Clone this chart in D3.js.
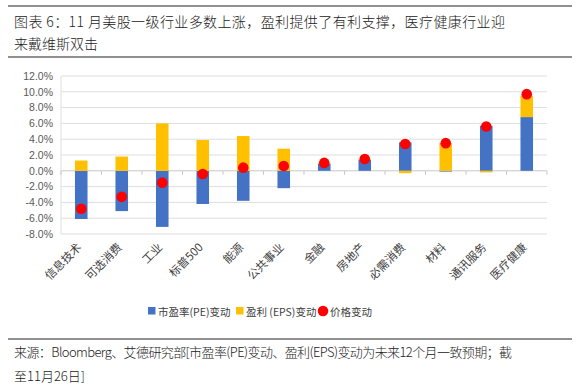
<!DOCTYPE html>
<html>
<head>
<meta charset="utf-8">
<script src="https://cdn.jsdelivr.net/npm/d3@7"></script>
<style>
  body { margin: 0; background: #fff; }
  svg { display: block; font-family: "Noto Sans CJK SC", "Liberation Sans", sans-serif; }
</style>
</head>
<body>
<svg width="579" height="390"></svg>
<script>
// sectors and the three series (% change)
var sectors = ["信息技术", "可选消费", "工业", "标普500", "能源", "公共事业", "金融", "房地产", "必需消费", "材料", "通讯服务", "医疗健康"];
var peChange = [-6.1, -5.1, -7.1, -4.2, -3.8, -2.2, 0.9, 1.4, 3.6, -0.1, 5.7, 6.8];
var epsChange = [1.3, 1.8, 6.0, 3.9, 4.4, 2.8, 0.1, 0.1, -0.3, 3.5, -0.2, 2.7];
var priceChange = [-4.8, -3.3, -1.5, -0.4, 0.4, 0.6, 1.0, 1.5, 3.4, 3.5, 5.6, 9.7];
var yTicks = [-8, -6, -4, -2, 0, 2, 4, 6, 8, 10, 12];

var svg = d3.select("svg");
var blue = "#4472c4", gold = "#ffc000", red = "#ff0000";

// title block
svg.append("line").attr("x1", 8).attr("x2", 572).attr("y1", 6).attr("y2", 6)
    .attr("stroke", "#6b6b6b").attr("stroke-width", 1.5);
svg.append("text").attr("x", 14).attr("y", 27).attr("font-size", 14).attr("font-weight", 300).attr("fill", "#222")
    .attr("textLength", 491).attr("lengthAdjust", "spacing")
    .text("图表 6：11 月美股一级行业多数上涨，盈利提供了有利支撑，医疗健康行业迎");
svg.append("text").attr("x", 14).attr("y", 49).attr("font-size", 14).attr("font-weight", 300).attr("fill", "#222")
    .text("来戴维斯双击");
svg.append("line").attr("x1", 8).attr("x2", 572).attr("y1", 57).attr("y2", 57)
    .attr("stroke", "#6b6b6b").attr("stroke-width", 1.5);

// chart
var x = d3.scaleBand().domain(sectors).range([61, 547]).paddingInner(0.69).paddingOuter(0.345);
var y = d3.scaleLinear().domain([-8, 12]).range([234, 76]);

var g = svg.append("g");

g.selectAll(".grid").data(yTicks).enter().append("line")
    .attr("x1", 61).attr("x2", 547)
    .attr("y1", function(d) { return y(d); }).attr("y2", function(d) { return y(d); })
    .attr("stroke", function(d) { return d === 0 ? "#c8c8c8" : "#dedede"; })
    .attr("stroke-width", 1);

g.append("line").attr("x1", 61).attr("x2", 61).attr("y1", y(12)).attr("y2", y(-8))
    .attr("stroke", "#dedede");

var yAxis = d3.axisLeft(y).tickValues(yTicks).tickSize(0).tickPadding(8)
    .tickFormat(function(d) { return d.toFixed(1) + "%"; });
var ya = g.append("g").attr("transform", "translate(61,0)").call(yAxis);
ya.select(".domain").remove();
ya.selectAll("text").attr("font-size", 10.5).attr("fill", "#595959")
    .attr("font-family", "Liberation Sans, Arial, sans-serif");

// x ticks at band boundaries on zero line
var bounds = sectors.map(function(s) { return x(s) - x.step() * x.paddingInner() / 2; });
bounds.push(547);
g.selectAll(".xtick").data(bounds).enter().append("line")
    .attr("x1", function(d) { return d; }).attr("x2", function(d) { return d; })
    .attr("y1", y(0)).attr("y2", y(0) + 4).attr("stroke", "#c8c8c8");

// stacked bars: positives stack up, negatives stack down
var rows = sectors.map(function(s, i) {
  var pe = peChange[i], eps = epsChange[i];
  var pos = 0, neg = 0, out = [];
  [[pe, blue], [eps, gold]].forEach(function(p) {
    var v = p[0], y0;
    if (v >= 0) { y0 = pos; pos += v; out.push({s: s, a: y0, b: pos, c: p[1]}); }
    else { y0 = neg; neg += v; out.push({s: s, a: y0, b: neg, c: p[1]}); }
  });
  return out;
});
g.selectAll(".bar").data(d3.merge(rows)).enter().append("rect")
    .attr("x", function(d) { return x(d.s); })
    .attr("width", x.bandwidth())
    .attr("y", function(d) { return y(Math.max(d.a, d.b)); })
    .attr("height", function(d) { return Math.abs(y(d.a) - y(d.b)); })
    .attr("fill", function(d) { return d.c; });

g.selectAll(".dot").data(priceChange).enter().append("circle")
    .attr("cx", function(d, i) { return x(sectors[i]) + x.bandwidth() / 2; })
    .attr("cy", function(d) { return y(d); })
    .attr("r", 5.3).attr("fill", red);

// rotated category labels
g.selectAll(".xl").data(sectors).enter().append("text")
    .attr("transform", function(d) {
      return "translate(" + (x(d) + x.bandwidth() / 2 + 1) + "," + 248 + ") rotate(-45)";
    })
    .attr("text-anchor", "end").attr("font-size", 11.5).attr("fill", "#404040")
    .text(function(d) { return d; });

// legend
var legend = svg.append("g").attr("font-size", 10.5);
legend.append("rect").attr("x", 148).attr("y", 307).attr("width", 7.5).attr("height", 7.5).attr("fill", blue);
legend.append("text").attr("x", 158).attr("y", 315.5).attr("fill", "#404040").text("市盈率(PE)变动");
legend.append("rect").attr("x", 236).attr("y", 307).attr("width", 7.5).attr("height", 7.5).attr("fill", gold);
legend.append("text").attr("x", 246).attr("y", 315.5).attr("fill", "#404040").text("盈利 (EPS)变动");
legend.append("circle").attr("cx", 323).attr("cy", 311).attr("r", 5.3).attr("fill", red);
legend.append("text").attr("x", 330).attr("y", 315.5).attr("fill", "#404040").text("价格变动");

// source
svg.append("line").attr("x1", 8).attr("x2", 572).attr("y1", 339).attr("y2", 339)
    .attr("stroke", "#6b6b6b").attr("stroke-width", 1.5);
svg.append("text").attr("x", 14).attr("y", 357).attr("font-size", 13).attr("font-weight", 300).attr("fill", "#222")
    .attr("textLength", 498).attr("lengthAdjust", "spacing")
    .text("来源：Bloomberg、艾德研究部[市盈率(PE)变动、盈利(EPS)变动为未来12个月一致预期；截");
svg.append("text").attr("x", 14).attr("y", 381).attr("font-size", 13).attr("font-weight", 300).attr("fill", "#222")
    .text("至11月26日]");
</script>
</body>
</html>
